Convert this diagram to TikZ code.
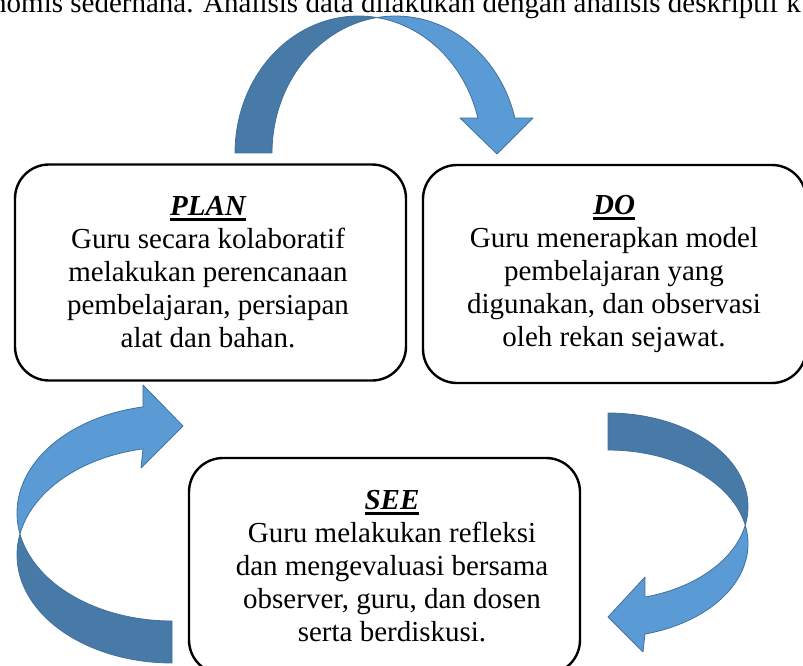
\documentclass[tikz,border=0pt]{standalone}
\usepackage{fontspec}
\setmainfont{Liberation Serif}

\definecolor{bandfront}{RGB}{91,155,213}
\definecolor{bandback}{RGB}{72,122,168}
\definecolor{bandedge}{RGB}{65,113,156}

\newsavebox{\headbox}
\newcommand{\stagehead}[1]{\sbox{\headbox}{\bfseries\itshape #1}\rlap{\usebox{\headbox}}\rule[-5.5pt]{\wd\headbox}{2.5pt}}

\tikzset{
  stagebox/.style={draw, fill=white, line width=2.4pt, rounded corners=34pt, minimum width=391pt, minimum height=216pt, inner sep=0pt},
  stagetext/.style={align=center, inner sep=0pt, font=\fontsize{29}{33}\selectfont},
  backband/.style={fill=bandback, draw=bandedge, line width=0.8pt, line join=round},
  frontband/.style={fill=bandfront, draw=bandedge, line width=0.8pt, line join=round},
}

\begin{document}
\begin{tikzpicture}[x=1pt, y=-1pt]
\useasboundingbox (0,0) rectangle (803,666);
\clip (0,0) rectangle (803,666);

% cut-off line of the page above
\node[anchor=base west, inner sep=0pt, font=\fontsize{29}{33}\selectfont] (pagetext) at (-8,13) {nomis sederhana. Analisis data dilakukan dengan analisis deskriptif k};

% arrow PLAN -> DO
\draw[backband] plot[domain=180:278.6, samples=50, variable=\t] ({358.5+123.5*cos(\t)}, {153+137*sin(\t)})
  -- plot[domain=261.4:180, samples=50, variable=\t] ({395.5+123.5*cos(\t)}, {153+137*sin(\t)}) -- cycle;
\draw[frontband] plot[domain=261.4:345.2, samples=50, variable=\t] ({395.5+123.5*cos(\t)}, {153+137*sin(\t)})
  -- (533,118) -- (497,154) -- (460,118)
  -- plot[domain=345.2:278.6, samples=50, variable=\t] ({358.5+123.5*cos(\t)}, {153+137*sin(\t)}) -- cycle;

% arrow DO -> SEE
\draw[backband] plot[domain=270:371.4, samples=50, variable=\t] ({608+140*cos(\t)}, {506.7+93.7*sin(\t)})
  -- plot[domain=348.6:270, samples=50, variable=\t] ({608+140*cos(\t)}, {543.7+93.7*sin(\t)}) -- cycle;
\draw[frontband] plot[domain=-11.4:74.7, samples=50, variable=\t] ({608+140*cos(\t)}, {543.7+93.7*sin(\t)})
  -- (643,652) -- (608,617) -- (645,577)
  -- plot[domain=74.7:11.4, samples=50, variable=\t] ({608+140*cos(\t)}, {506.7+93.7*sin(\t)}) -- cycle;

% arrow SEE -> PLAN
\draw[backband] plot[domain=191.2:90, samples=50, variable=\t] ({172+155*cos(\t)}, {555+108*sin(\t)})
  -- plot[domain=90:168.8, samples=50, variable=\t] ({172+155*cos(\t)}, {513+108*sin(\t)}) -- cycle;
\draw[frontband] plot[domain=168.8:259.2, samples=50, variable=\t] ({172+155*cos(\t)}, {513+108*sin(\t)})
  -- (143,385) -- (183,426) -- (141,468)
  -- plot[domain=259.2:191.2, samples=50, variable=\t] ({172+155*cos(\t)}, {555+108*sin(\t)}) -- cycle;

% the three stages
\node[stagebox] (plan) at (210.5,272.5) {};
\node[stagebox, minimum width=383pt, minimum height=218pt] (do) at (614.5,274) {};
\node[stagebox] (see) at (384.5,566) {};

\node[stagetext] (plantext) at (208,272) {\stagehead{PLAN}\\Guru secara kolaboratif\\melakukan perencanaan\\pembelajaran, persiapan\\alat dan bahan.};
\node[stagetext] (dotext) at (614,273.5) {\stagehead{DO}\\Guru menerapkan model\\pembelajaran yang\\digunakan, dan observasi\\oleh rekan sejawat.};
\node[stagetext] (seetext) at (392,566) {\stagehead{SEE}\\Guru melakukan refleksi\\dan mengevaluasi bersama\\observer, guru, dan dosen\\serta berdiskusi.};
\end{tikzpicture}
\end{document}
